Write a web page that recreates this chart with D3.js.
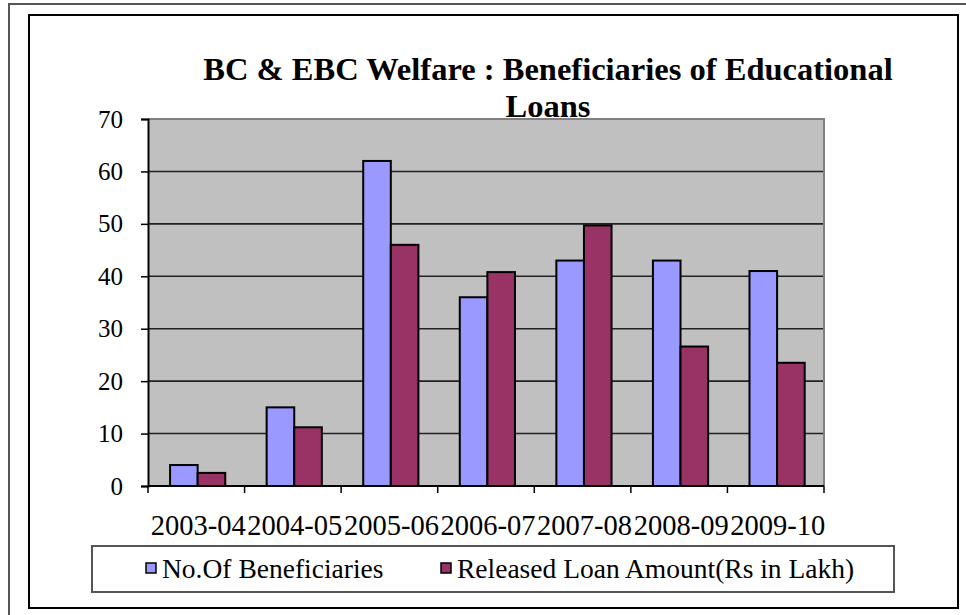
<!DOCTYPE html>
<html>
<head>
<meta charset="utf-8">
<script src="https://cdn.jsdelivr.net/npm/d3@7"></script>
<style>
  html, body { margin: 0; padding: 0; background: #fff; }
  svg { display: block; }
  svg text { font-family: "Liberation Serif", "Times New Roman", Times, "DejaVu Serif", serif !important; }
</style>
</head>
<body>
<svg id="chart" width="966" height="615"></svg>
<script>
const categories = ["2003-04", "2004-05", "2005-06", "2006-07", "2007-08", "2008-09", "2009-10"];
const seriesNames = ["No.Of Beneficiaries", "Released Loan Amount(Rs in Lakh)"];
const beneficiaries = [4, 15, 62, 36, 43, 43, 41];
const loanAmount = [2.5, 11.2, 46, 40.8, 49.7, 26.6, 23.5];
const yTicks = [0, 10, 20, 30, 40, 50, 60, 70];
const seriesColors = ["#9999ff", "#993366"];
const titleLines = ["BC & EBC Welfare : Beneficiaries of Educational", "Loans"];

const FONT = "'Liberation Serif', 'Times New Roman', Times, 'DejaVu Serif', serif";
const svg = d3.select("#chart");

// outer frames
svg.append("rect").attr("x", 9).attr("y", 4).attr("width", 980).attr("height", 640)
  .attr("fill", "none").attr("stroke", "#555").attr("stroke-width", 2);
svg.append("rect").attr("x", 29).attr("y", 15).attr("width", 929).attr("height", 593)
  .attr("fill", "none").attr("stroke", "#000").attr("stroke-width", 2);

const plot = { left: 148, right: 824, top: 119, bottom: 486 };

const x = d3.scaleBand().domain(categories).range([plot.left, plot.right]).padding(0);
const y = d3.scaleLinear().domain([0, 70]).range([plot.bottom, plot.top]);
const barW = x.bandwidth() / 3.5;
const xs = d3.scaleBand().domain(seriesNames).range([0.8 * barW, 2.8 * barW]).padding(0);

// plot background
svg.append("rect").attr("x", plot.left).attr("y", plot.top)
  .attr("width", plot.right - plot.left).attr("height", plot.bottom - plot.top)
  .attr("fill", "#c0c0c0");

// gridlines
svg.append("g").selectAll("line").data(yTicks.filter(d => d > 0 && d < 70)).join("line")
  .attr("x1", plot.left).attr("x2", plot.right)
  .attr("y1", d => y(d)).attr("y2", d => y(d))
  .attr("stroke", "#222").attr("stroke-width", 1.6);

// plot border (top and right, gray)
svg.append("path")
  .attr("d", `M${plot.left},${plot.top}H${plot.right}V${plot.bottom}`)
  .attr("fill", "none").attr("stroke", "#808080").attr("stroke-width", 2);

// bars
const data = categories.map((c, i) => ({ c, vals: [beneficiaries[i], loanAmount[i]] }));
const groups = svg.append("g").selectAll("g").data(data).join("g")
  .attr("transform", d => `translate(${x(d.c)},0)`);
groups.selectAll("rect").data(d => d.vals.map((v, j) => ({ v, s: seriesNames[j], j }))).join("rect")
  .attr("x", d => xs(d.s))
  .attr("y", d => y(d.v))
  .attr("width", xs.bandwidth())
  .attr("height", d => y(0) - y(d.v))
  .attr("fill", d => seriesColors[d.j])
  .attr("stroke", "#000").attr("stroke-width", 2);

// y axis
const yAxis = d3.axisLeft(y).tickValues(yTicks).tickSize(7).tickPadding(18).tickFormat(d3.format("d"));
const gy = svg.append("g").attr("transform", `translate(${plot.left},0)`).call(yAxis)
  .attr("font-family", null).attr("font-size", null);
gy.select(".domain").attr("stroke", "#000").attr("stroke-width", 2);
gy.selectAll(".tick line").attr("stroke", "#000").attr("stroke-width", 1.5);
gy.selectAll(".tick text").style("font-size", "25px").style("font-family", FONT).attr("fill", "#000");

// x axis
const gx = svg.append("g").attr("transform", `translate(0,${plot.bottom})`);
gx.append("line").attr("x1", plot.left).attr("x2", plot.right).attr("y1", 0).attr("y2", 0)
  .attr("stroke", "#000").attr("stroke-width", 2);
const boundaries = categories.map(c => x(c)).concat([plot.right]);
gx.selectAll("line.tk").data(boundaries).join("line").attr("class", "tk")
  .attr("x1", d => d).attr("x2", d => d).attr("y1", 0).attr("y2", 7)
  .attr("stroke", "#000").attr("stroke-width", 1.5);
gx.selectAll("text").data(categories).join("text")
  .attr("x", d => x(d) + x.bandwidth() / 2 + 2)
  .attr("y", 49)
  .attr("text-anchor", "middle")
  .style("font-size", "28.5px").style("font-family", FONT)
  .attr("fill", "#000")
  .text(d => d);

// title
svg.append("g").selectAll("text").data(titleLines).join("text")
  .attr("x", 548).attr("y", (d, i) => 80 + i * 37)
  .attr("text-anchor", "middle")
  .style("font-size", "32.5px").style("font-weight", "bold").style("font-family", FONT)
  .attr("fill", "#000")
  .text(d => d);

// legend
const lg = svg.append("g");
lg.append("rect").attr("x", 92).attr("y", 546).attr("width", 802).attr("height", 46)
  .attr("fill", "#fff").attr("stroke", "#555").attr("stroke-width", 2);
const legendX = [146, 441];
const items = lg.selectAll("g").data(seriesNames).join("g")
  .attr("transform", (d, i) => `translate(${legendX[i]},0)`);
items.append("rect").attr("x", 0).attr("y", 563).attr("width", 10).attr("height", 10)
  .attr("fill", (d, i) => seriesColors[i]).attr("stroke", "#000").attr("stroke-width", 1.5);
items.append("text").attr("x", 16).attr("y", 578)
  .style("font-size", "27.5px").style("font-family", FONT).attr("fill", "#000")
  .text(d => d);
</script>
</body>
</html>
